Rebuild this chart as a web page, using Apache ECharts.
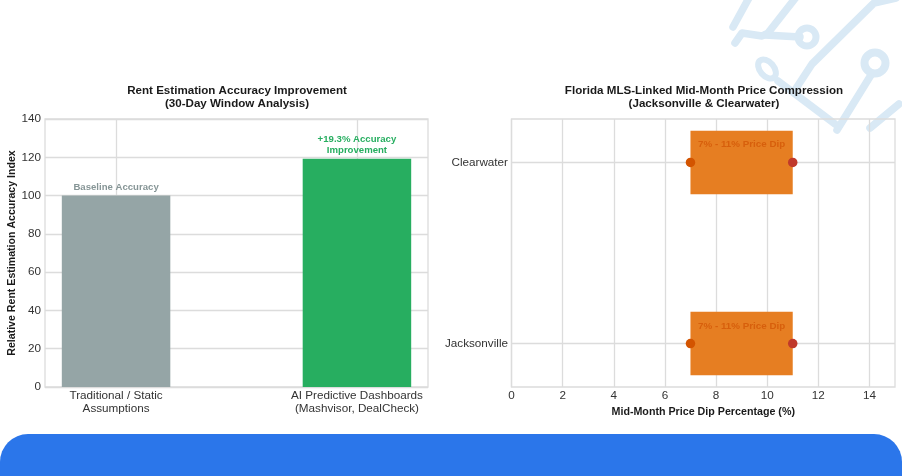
<!DOCTYPE html>
<html>
<head>
<meta charset="utf-8">
<style>
html, body { margin: 0; padding: 0; background: #fff; }
#main { width: 902px; height: 476px; }
</style>
<script src="https://cdn.jsdelivr.net/npm/echarts@6/dist/echarts.min.js"></script>
</head>
<body>
<div id="main"></div>
<script>
const categories = ['Traditional / Static\nAssumptions', 'AI Predictive Dashboards\n(Mashvisor, DealCheck)'];
const accuracyValues = [100, 119.3];
const accuracyLabels = ['Baseline Accuracy', '+19.3% Accuracy\nImprovement'];
const accuracyColors = ['#95a5a6', '#27ae60'];
const accuracyLabelColors = ['#869596', '#27ae60'];

const cities = ['Jacksonville', 'Clearwater'];
const dipLow = [7, 7];
const dipHigh = [11, 11];
const dipLabels = ['7% - 11% Price Dip', '7% - 11% Price Dip'];
const xTicks = [0, 2, 4, 6, 8, 10, 12, 14];

const FONT = '"Liberation Sans", Arial, sans-serif';
const GRID_LINE = '#dcdcdc';
const slots = [0, 1];

const mychart = echarts.init(document.getElementById('main'));

// circuit watermark in the top right corner
const WM = '#d9e9f5';
const wmLines = [
  [[797, -4], [768, 33], [762, 36], [742, 33], [735, 43]],
  [[750, -4], [733, 27]],
  [[765, 35], [800, 37]],
  [[778, 81], [835, 124]],
  [[896, -2], [874, 3], [812, 64], [795, 90]],
  [[871, 75], [837, 130]],
  [[899, 104], [870, 128]]
];
const watermark = wmLines.map(points => ({
  type: 'polyline', silent: true, z: -1,
  shape: { points: points },
  style: { stroke: WM, lineWidth: 7.5, fill: null, lineCap: 'round', lineJoin: 'round' }
})).concat([
  { type: 'circle', silent: true, z: -1, shape: { cx: 807, cy: 37, r: 9 }, style: { fill: null, stroke: WM, lineWidth: 7 } },
  { type: 'circle', silent: true, z: -1, shape: { cx: 875, cy: 63, r: 10.5 }, style: { fill: null, stroke: WM, lineWidth: 8 } },
  { type: 'ellipse', silent: true, z: -1, rotation: 0.7, originX: 767, originY: 69, shape: { cx: 767, cy: 69, rx: 7, ry: 11 }, style: { fill: null, stroke: WM, lineWidth: 6 } }
]);

function dipBars(params, api) {
  const i = api.value(0);
  const a = api.coord([api.value(1), i + 0.175]);
  const b = api.coord([api.value(2), i - 0.175]);
  const t = api.coord([(api.value(1) + api.value(2)) / 2, i + 0.098]);
  return {
    type: 'group',
    children: [
      {
        type: 'rect',
        shape: { x: a[0], y: a[1], width: b[0] - a[0], height: b[1] - a[1] },
        style: { fill: '#e67e22' }
      },
      {
        type: 'text',
        style: {
          x: t[0], y: t[1], text: dipLabels[i], fill: '#d75f0c',
          font: 'bold 9.8px ' + FONT, align: 'center', verticalAlign: 'middle'
        }
      }
    ]
  };
}

const option = {
  animation: false,
  backgroundColor: '#fff',
  graphic: watermark.concat([
    {
      type: 'rect', silent: true, z: 5,
      shape: { x: 0, y: 434, width: 902, height: 80, r: 28 },
      style: { fill: '#2b76ea' }
    }
  ]),
  title: [
    {
      text: 'Rent Estimation Accuracy Improvement\n(30-Day Window Analysis)',
      left: 232, top: 80, textAlign: 'center',
      textStyle: { fontFamily: FONT, fontSize: 11.6, fontWeight: 'bold', color: '#1a1a1a', lineHeight: 12.5 }
    },
    {
      text: 'Florida MLS-Linked Mid-Month Price Compression\n(Jacksonville & Clearwater)',
      left: 699, top: 80, textAlign: 'center',
      textStyle: { fontFamily: FONT, fontSize: 11.6, fontWeight: 'bold', color: '#1a1a1a', lineHeight: 12.5 }
    }
  ],
  grid: [
    { left: 45, top: 119, width: 383, height: 268, show: true, borderColor: GRID_LINE, borderWidth: 1.3, backgroundColor: 'transparent' },
    { left: 511.5, top: 119, width: 383.5, height: 268, show: true, borderColor: GRID_LINE, borderWidth: 1.3, backgroundColor: 'transparent' }
  ],
  xAxis: [
    {
      type: 'value', gridIndex: 0, min: -0.295, max: 1.295,
      axisLine: { show: false },
      axisTick: { show: false, customValues: slots },
      splitLine: { show: true, lineStyle: { color: GRID_LINE, width: 1.3 } },
      axisLabel: {
        customValues: slots, margin: 3, fontFamily: FONT, fontSize: 11.7, color: '#333', lineHeight: 12.5,
        formatter: v => categories[v]
      }
    },
    {
      type: 'value', gridIndex: 1, min: 0, max: 15,
      name: 'Mid-Month Price Dip Percentage (%)', nameLocation: 'middle', nameGap: 18,
      nameTextStyle: { fontFamily: FONT, fontSize: 10.7, fontWeight: 'bold', color: '#1a1a1a' },
      axisLine: { show: false },
      axisTick: { show: false, customValues: xTicks },
      splitLine: { show: true, lineStyle: { color: GRID_LINE, width: 1.3 } },
      axisLabel: { customValues: xTicks, margin: 3, fontFamily: FONT, fontSize: 11.7, color: '#333' }
    }
  ],
  yAxis: [
    {
      type: 'value', gridIndex: 0, min: 0, max: 140, interval: 20,
      name: 'Relative Rent Estimation Accuracy Index', nameLocation: 'middle', nameGap: 24,
      nameTextStyle: { fontFamily: FONT, fontSize: 10.6, fontWeight: 'bold', color: '#1a1a1a' },
      axisLine: { show: false },
      axisTick: { show: false },
      splitLine: { show: true, lineStyle: { color: GRID_LINE, width: 1.3 } },
      axisLabel: { margin: 4, padding: [4, 0, 0, 0], fontFamily: FONT, fontSize: 11.7, color: '#333' }
    },
    {
      type: 'value', gridIndex: 1, min: -0.24, max: 1.24,
      axisLine: { show: false },
      axisTick: { show: false, customValues: slots },
      splitLine: { show: true, lineStyle: { color: GRID_LINE, width: 1.3 } },
      axisLabel: {
        customValues: slots, margin: 3.5, padding: [2, 0, 0, 0], fontFamily: FONT, fontSize: 11.7, color: '#333',
        formatter: v => cities[v]
      }
    }
  ],
  series: [
    {
      type: 'bar', xAxisIndex: 0, yAxisIndex: 0, barWidth: 108.5, z: 3,
      data: accuracyValues.map((v, i) => ({
        value: [i, v],
        itemStyle: { color: accuracyColors[i] },
        label: {
          show: true, position: 'top', distance: 2.5, formatter: accuracyLabels[i],
          fontFamily: FONT, fontSize: 9.6, fontWeight: 'bold', lineHeight: 11,
          color: accuracyLabelColors[i]
        }
      }))
    },
    {
      type: 'custom', xAxisIndex: 1, yAxisIndex: 1, z: 3, renderItem: dipBars,
      encode: { x: [1, 2], y: 0 },
      data: cities.map((c, i) => [i, dipLow[i], dipHigh[i]])
    },
    {
      type: 'scatter', xAxisIndex: 1, yAxisIndex: 1, z: 4, symbolSize: 9.5,
      itemStyle: { color: '#d35400', opacity: 1 },
      data: cities.map((c, i) => [dipLow[i], i])
    },
    {
      type: 'scatter', xAxisIndex: 1, yAxisIndex: 1, z: 4, symbolSize: 9.5,
      itemStyle: { color: '#c0392b', opacity: 1 },
      data: cities.map((c, i) => [dipHigh[i], i])
    }
  ]
};
mychart.setOption(option);
</script>
</body>
</html>
